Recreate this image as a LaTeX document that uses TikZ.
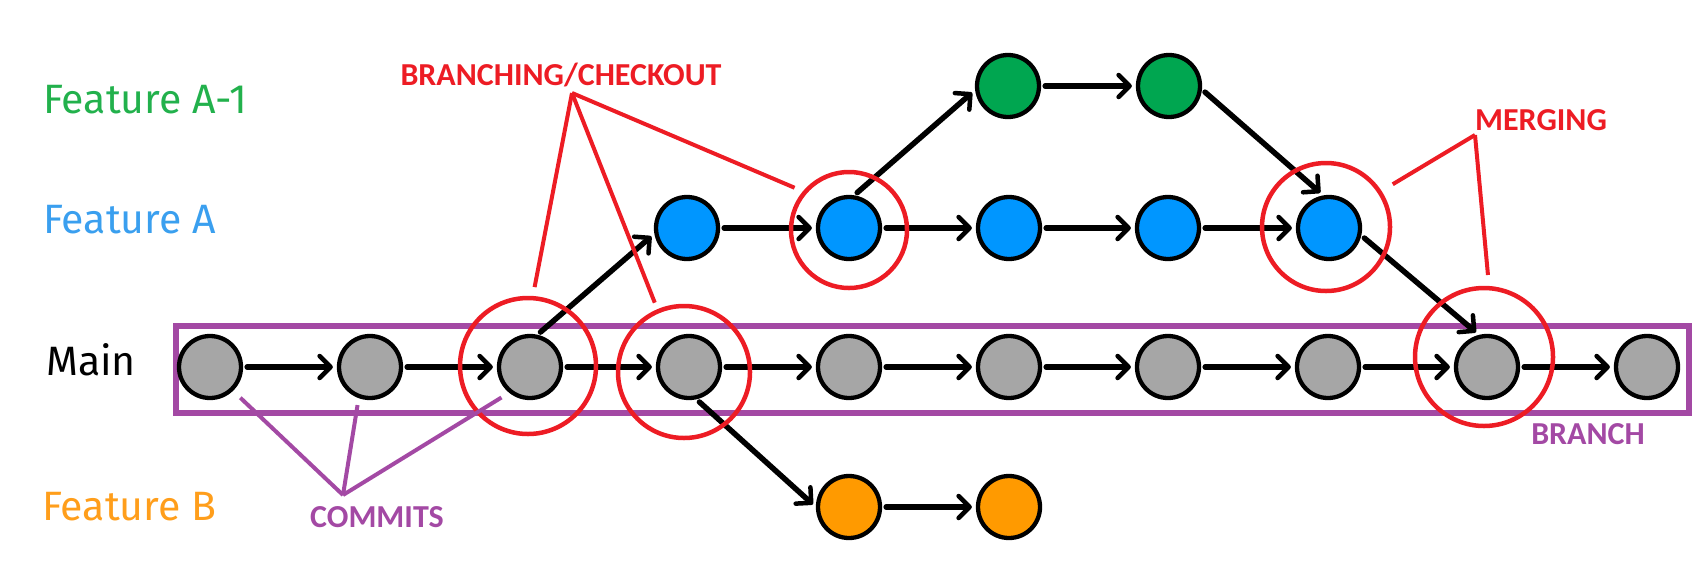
\documentclass[tikz,border=0pt]{standalone}
\usepackage{fontspec}
\usetikzlibrary{arrows.meta}
\newfontfamily\handfont{Fira Sans}
\newfontfamily\notefont{Carlito}

\definecolor{commitgray}{HTML}{A6A6A6}
\definecolor{commitblue}{HTML}{0096FF}
\definecolor{commitgreen}{HTML}{00A650}
\definecolor{commitorange}{HTML}{FF9A00}
\definecolor{notered}{HTML}{ED1C24}
\definecolor{notepurple}{HTML}{A349A4}
\definecolor{labelgreen}{HTML}{22B14C}
\definecolor{labelblue}{HTML}{3A9FEF}
\definecolor{labelorange}{HTML}{FF9E1B}

\tikzset{
  commit/.style={circle, draw=black, line width=4.3pt, minimum size=62pt, inner sep=0pt, fill=#1},
  flow/.style={-{Straight Barb[length=11pt,width=22pt,line width=4.5pt,round]}, line width=5.5pt,
               line cap=round, shorten <=4pt, shorten >=4pt},
  ring/.style={circle, draw=notered, line width=4.5pt, minimum size=#1, inner sep=0pt},
  redlead/.style={draw=notered, line width=4pt},
  purplelead/.style={draw=notepurple, line width=4pt},
  note/.style={font=\notefont\bfseries\fontsize{32}{36}\selectfont, text=#1, inner sep=0pt},
  rowlabel/.style={anchor=base west, inner sep=0pt, text=#1,
                   font=\handfont\fontsize{41}{46}\selectfont},
}

\begin{document}
\begin{tikzpicture}[x=1pt, y=-1pt]
\useasboundingbox (0,0) rectangle (1693,579);

% branch labels
\node[rowlabel=labelgreen]  (lblA1) at (43,113) {Feature A-1};
\node[rowlabel=labelblue]   (lblA)  at (43,233) {Feature A};
\node[rowlabel=black]       (lblM)  at (46,375) {Main};
\node[rowlabel=labelorange] (lblB)  at (42,520) {Feature B};

% main branch outline
\draw[notepurple, line width=5.5pt] (176,326) rectangle (1689,413);

% commits on main
\foreach \i/\x in {0/210,1/370,2/530,3/689,4/849,5/1009,6/1168,7/1328,8/1487,9/1647}
  \node[commit=commitgray] (m\i) at (\x,367) {};

% commits on feature A
\foreach \i/\x in {3/687,4/849,5/1009,6/1168,7/1329}
  \node[commit=commitblue] (a\i) at (\x,228) {};

% commits on feature A-1
\node[commit=commitgreen] (g5) at (1008,86) {};
\node[commit=commitgreen] (g6) at (1169,86) {};

% commits on feature B
\node[commit=commitorange] (b4) at (849,507) {};
\node[commit=commitorange] (b5) at (1009,507) {};

% history arrows
\foreach \i [evaluate=\i as \j using int(\i+1)] in {0,...,8}
  \draw[flow] (m\i) -- (m\j);
\foreach \i [evaluate=\i as \j using int(\i+1)] in {3,...,6}
  \draw[flow] (a\i) -- (a\j);
\draw[flow] (g5) -- (g6);
\draw[flow] (b4) -- (b5);

% branch and merge arrows
\draw[flow] (m2.77) -- (a3.190);
\draw[flow] (a4.81) -- (g5.187);
\draw[flow] (g6.-6) -- (a7.100);
\draw[flow] (a7.-13) -- (m8.104);
\draw[flow] (m3.-77) -- (b4.180);

% highlight rings
\node[ring=136pt] (r1) at (528,366) {};
\node[ring=132pt] (r2) at (684,372) {};
\node[ring=116pt] (r3) at (849,230) {};
\node[ring=128pt] (r4) at (1326,227) {};
\node[ring=138pt] (r5) at (1484,357) {};

% annotations
\node[note=notered] (tBranch) at (561,75) {BRANCHING/CHECKOUT};
\coordinate (bApex) at (572,93);
\draw[redlead, shorten >=9pt] (bApex) -- (r1.86);
\draw[redlead, shorten >=7pt] (bApex) -- (r2.113);
\draw[redlead, shorten >=9pt] (bApex) -- (r3.140);

\node[note=notered] (tMerge) at (1541,120) {MERGING};
\coordinate (mApex) at (1475,135);
\draw[redlead, shorten >=13pt] (mApex) -- (r4.33);
\draw[redlead, shorten >=11pt] (mApex) -- (r5.86);

\node[note=notepurple] (tCommits) at (377,517) {COMMITS};
\coordinate (cApex) at (343,495);
\draw[purplelead, shorten >=10pt] (cApex) -- (m0.-46);
\draw[purplelead, shorten >=7pt]  (cApex) -- (m1.-110);
\draw[purplelead, shorten >=9pt]  (cApex) -- (m2.-129);

\node[note=notepurple] (tBranchBox) at (1588,434) {BRANCH};
\end{tikzpicture}
\end{document}
